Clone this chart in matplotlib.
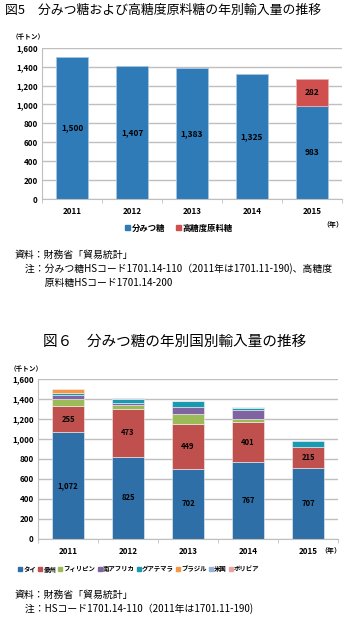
"""
Import volume of bunmitsu sugar: totals by type (Fig.5) and by country (Fig.6).
"""

import numpy as np
import matplotlib.pyplot as plt
from matplotlib.patches import Patch

plt.rcParams['font.family'] = ['Noto Sans CJK JP', 'DejaVu Sans']

# --- Data ---
years = ["2011", "2012", "2013", "2014", "2015"]

# Fig.5 (thousand tons)
bunmitsu = [1500, 1407, 1383, 1325, 983]
high_sugar = [0, 0, 0, 0, 282]

# Fig.6 by country (thousand tons)
countries = ["タイ", "豪州", "フィリピン", "南アフリカ", "グアテマラ", "ブラジル", "米国", "ボリビア"]
thai = [1072, 825, 702, 767, 707]
australia = [255, 473, 449, 401, 215]
philippines = [75, 40, 100, 37, 0]
s_africa = [35, 25, 67, 90, 0]
guatemala = [25, 37, 60, 15, 61]
brazil = [38, 0, 0, 0, 0]
usa = [0, 7, 5, 10, 0]
bolivia = [0, 0, 0, 5, 0]

country_series = [thai, australia, philippines, s_africa, guatemala, brazil, usa, bolivia]
country_colors = ["#2F6FA7", "#C0504D", "#9BBB59", "#8064A2", "#1A9AB0",
                  "#F79646", "#95B3D7", "#E6A5A4"]

GRID = "#BFBFBF"
TICK_FS = 5.8
NOTE_FS = 7.1


def style_axes(ax, n):
    ax.set_xlim(-0.5, n - 0.5)
    ax.set_ylim(0, 1600)
    ax.set_yticks(range(0, 1601, 200))
    ax.set_yticklabels([f"{v:,}" for v in range(0, 1601, 200)], fontsize=TICK_FS, fontweight='bold')
    ax.set_xticks(range(n))
    ax.set_xticklabels(years, fontsize=TICK_FS, fontweight='bold')
    ax.set_xticks(np.arange(-0.5, n, 1), minor=True)
    ax.tick_params(axis='x', which='major', length=0, pad=6)
    ax.tick_params(axis='x', which='minor', length=3, color=GRID, direction='out')
    ax.tick_params(axis='y', length=0, pad=3)
    ax.grid(True, axis='y', color=GRID, linewidth=1.0)
    ax.set_axisbelow(True)
    for side in ['top', 'right']:
        ax.spines[side].set_visible(False)
    ax.spines['left'].set_color(GRID)
    ax.spines['bottom'].set_color(GRID)


def stacked_bar(ax, xs, vals, bottom, color, edge, lw):
    # skip empty segments so no stray edge lines are drawn
    keep = [i for i, v in enumerate(vals) if v > 0]
    ax.bar([xs[i] for i in keep], [vals[i] for i in keep], 0.53,
           bottom=[bottom[i] for i in keep], color=color, edgecolor=edge, linewidth=lw)


fig = plt.figure(figsize=(3.5, 6.19), dpi=100)

# ---------------- Fig.5 ----------------
fig.text(5 / 350, 1 - 10 / 619, "図5　分みつ糖および高糖度原料糖の年別輸入量の推移",
         fontsize=9.3, va='center', ha='left')
fig.text(12 / 350, 1 - 37 / 619, "（千トン）", fontsize=4.8, fontweight='bold', va='center')

ax1 = fig.add_axes([42 / 350, 1 - 199 / 619, 300 / 350, 151.3 / 619])
x = np.arange(len(years))
stacked_bar(ax1, x, bunmitsu, [0] * len(years), "#2E7BB8", "#A9C4E0", 0.6)
stacked_bar(ax1, x, high_sugar, bunmitsu, "#D0504F", "#E8B0AF", 0.6)
style_axes(ax1, len(years))
for i, v in enumerate(bunmitsu):
    ax1.text(i, v / 2, f"{v:,}", ha='center', va='center', fontsize=6, fontweight='bold')
for i, v in enumerate(high_sugar):
    if v > 0:
        ax1.text(i, bunmitsu[i] + v / 2, f"{v:,}", ha='center', va='center', fontsize=6, fontweight='bold')

fig.text(333 / 350, 1 - 225 / 619, "（年）", fontsize=5, fontweight='bold', va='center', ha='center')
fig.legend(handles=[Patch(color="#2E7BB8", label="分みつ糖"), Patch(color="#D0504F", label="高糖度原料糖")],
           loc='center', bbox_to_anchor=(179 / 350, 1 - 228 / 619), ncol=2, frameon=False,
           prop={'size': 6, 'weight': 'bold'}, handlelength=0.6, handleheight=0.6,
           handletextpad=0.2, columnspacing=1.2)

fig.text(15 / 350, 1 - 255 / 619, "資料：財務省「貿易統計」", fontsize=NOTE_FS, va='center')
fig.text(15 / 350, 1 - 269 / 619, "　注：分みつ糖HSコード1701.14-110（2011年は1701.11-190)、高糖度",
         fontsize=NOTE_FS, va='center')
fig.text(15 / 350, 1 - 283 / 619, "　　　原料糖HSコード1701.14-200", fontsize=NOTE_FS, va='center')

# ---------------- Fig.6 ----------------
fig.text(43 / 350, 1 - 342 / 619, "図６　分みつ糖の年別国別輸入量の推移",
         fontsize=10.5, va='center', ha='left')
fig.text(10 / 350, 1 - 369 / 619, "（千トン）", fontsize=4.8, fontweight='bold', va='center')

ax2 = fig.add_axes([38 / 350, 1 - 539 / 619, 300 / 350, 160 / 619])
bottom = np.zeros(len(years))
for name, vals, col in zip(countries, country_series, country_colors):
    stacked_bar(ax2, x, vals, bottom, col, "#F2F2F2", 0.4)
    bottom += np.array(vals)
style_axes(ax2, len(years))
for i in range(len(years)):
    ax2.text(i, thai[i] / 2, f"{thai[i]:,}", ha='center', va='center', fontsize=5.5, fontweight='bold')
    ax2.text(i, thai[i] + australia[i] / 2, f"{australia[i]:,}", ha='center', va='center',
             fontsize=5.5, fontweight='bold')

fig.text(331 / 350, 1 - 551 / 619, "（年）", fontsize=5, fontweight='bold', va='center', ha='center')
fig.legend(handles=[Patch(color=c, label=n) for n, c in zip(countries, country_colors)],
           loc='center', bbox_to_anchor=(139 / 350, 1 - 569 / 619), ncol=8, frameon=False,
           prop={'size': 4.6, 'weight': 'bold'}, handlelength=0.6, handleheight=0.6,
           handletextpad=0.2, columnspacing=0.35)

fig.text(15 / 350, 1 - 595 / 619, "資料：財務省「貿易統計」", fontsize=NOTE_FS, va='center')
fig.text(15 / 350, 1 - 609 / 619, "　注：HSコード1701.14-110（2011年は1701.11-190)", fontsize=NOTE_FS, va='center')

plt.savefig("out.png", dpi=100)
